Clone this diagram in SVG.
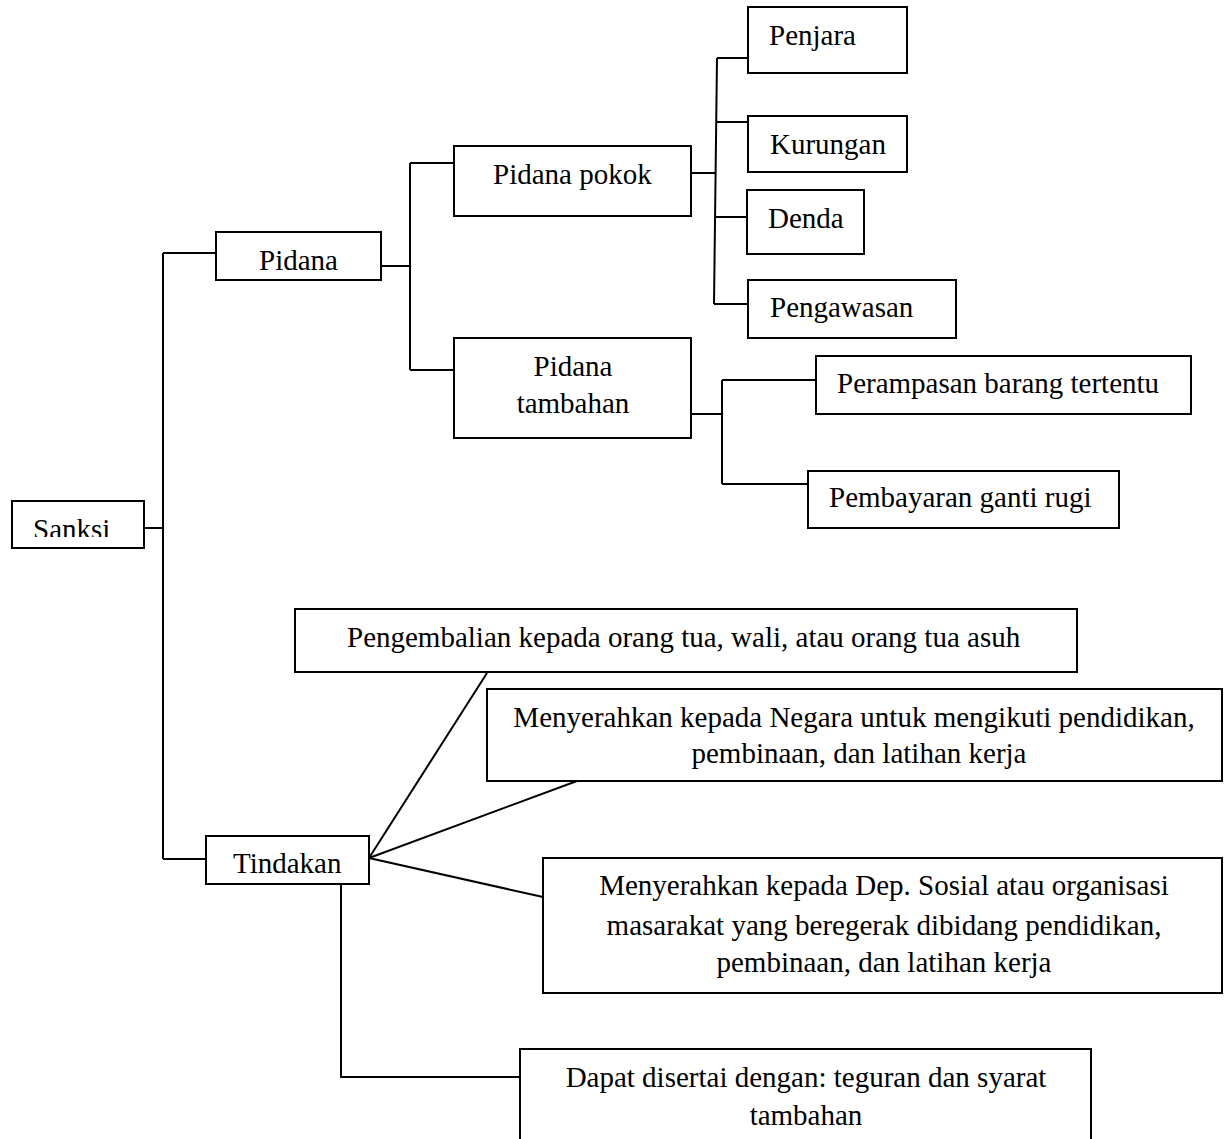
<svg xmlns="http://www.w3.org/2000/svg" width="1227" height="1139" viewBox="0 0 1227 1139">
<style>
.box{fill:#fff;stroke:#000;stroke-width:2}
.t{font-family:"Liberation Serif","Times New Roman",serif;font-size:29px;fill:#000}
.m{text-anchor:middle}
.c{fill:none;stroke:#000;stroke-width:2}
</style>
<defs>
<clipPath id="clipS"><rect x="0" y="490" width="160" height="47"/></clipPath>
</defs>
<rect width="1227" height="1139" fill="#fff"/>
<g id="connectors">
<path class="c" d="M144,528 H163"/>
<path class="c" d="M163,253 V859"/>
<path class="c" d="M163,253 H216"/>
<path class="c" d="M163,859 H206"/>
<path class="c" d="M381,266 H410"/>
<path class="c" d="M410,163 V370"/>
<path class="c" d="M410,163 H454"/>
<path class="c" d="M410,370 H454"/>
<path class="c" d="M691,173 H716"/>
<path class="c" d="M717,58 L714,304"/>
<path class="c" d="M717,58 H748"/>
<path class="c" d="M716,122 H748"/>
<path class="c" d="M715,217 H747"/>
<path class="c" d="M714,304 H748"/>
<path class="c" d="M691,414 H722"/>
<path class="c" d="M722,380 V484"/>
<path class="c" d="M722,380 H816"/>
<path class="c" d="M722,484 H808"/>
<path class="c" d="M369,858 L487,673"/>
<path class="c" d="M369,858 L577,781"/>
<path class="c" d="M369,858 L543,897"/>
<path class="c" d="M341,880 V1077 H520"/>
</g>
<g id="sanksi">
<rect class="box" x="12" y="501" width="132" height="47"/>
<text class="t" x="33" y="539" clip-path="url(#clipS)">Sanksi</text>
</g>
<g id="pidana">
<rect class="box" x="216" y="232" width="165" height="48"/>
<text class="t" x="259" y="270">Pidana</text>
</g>
<g id="pidana-pokok">
<rect class="box" x="454" y="146" width="237" height="70"/>
<text class="t" x="493" y="184">Pidana pokok</text>
</g>
<g id="pidana-tambahan">
<rect class="box" x="454" y="338" width="237" height="100"/>
<text class="t m" x="573" y="376">Pidana</text>
<text class="t m" x="573" y="413">tambahan</text>
</g>
<g id="penjara">
<rect class="box" x="748" y="7" width="159" height="66"/>
<text class="t" x="769" y="45">Penjara</text>
</g>
<g id="kurungan">
<rect class="box" x="748" y="116" width="159" height="56"/>
<text class="t" x="770" y="154">Kurungan</text>
</g>
<g id="denda">
<rect class="box" x="747" y="190" width="117" height="64"/>
<text class="t" x="768" y="228">Denda</text>
</g>
<g id="pengawasan">
<rect class="box" x="748" y="280" width="208" height="58"/>
<text class="t" x="770" y="317">Pengawasan</text>
</g>
<g id="perampasan">
<rect class="box" x="816" y="356" width="375" height="58"/>
<text class="t" x="837" y="393">Perampasan barang tertentu</text>
</g>
<g id="pembayaran">
<rect class="box" x="808" y="471" width="311" height="57"/>
<text class="t" x="829" y="507">Pembayaran ganti rugi</text>
</g>
<g id="tindakan">
<rect class="box" x="206" y="836" width="163" height="48"/>
<text class="t" x="233" y="873">Tindakan</text>
</g>
<g id="pengembalian">
<rect class="box" x="295" y="609" width="782" height="63"/>
<text class="t" x="347" y="647">Pengembalian kepada orang tua, wali, atau orang tua asuh</text>
</g>
<g id="negara">
<rect class="box" x="487" y="689" width="735" height="92"/>
<text class="t m" x="854" y="727">Menyerahkan kepada Negara untuk mengikuti pendidikan,</text>
<text class="t m" x="859" y="763">pembinaan, dan latihan kerja</text>
</g>
<g id="depsos">
<rect class="box" x="543" y="858" width="679" height="135"/>
<text class="t m" x="884" y="895">Menyerahkan kepada Dep. Sosial atau organisasi</text>
<text class="t m" x="884" y="935">masarakat yang beregerak dibidang pendidikan,</text>
<text class="t m" x="884" y="972">pembinaan, dan latihan kerja</text>
</g>
<g id="dapat">
<rect class="box" x="520" y="1049" width="571" height="110"/>
<text class="t m" x="806" y="1087">Dapat disertai dengan: teguran dan syarat</text>
<text class="t m" x="806" y="1125">tambahan</text>
</g>
</svg>
